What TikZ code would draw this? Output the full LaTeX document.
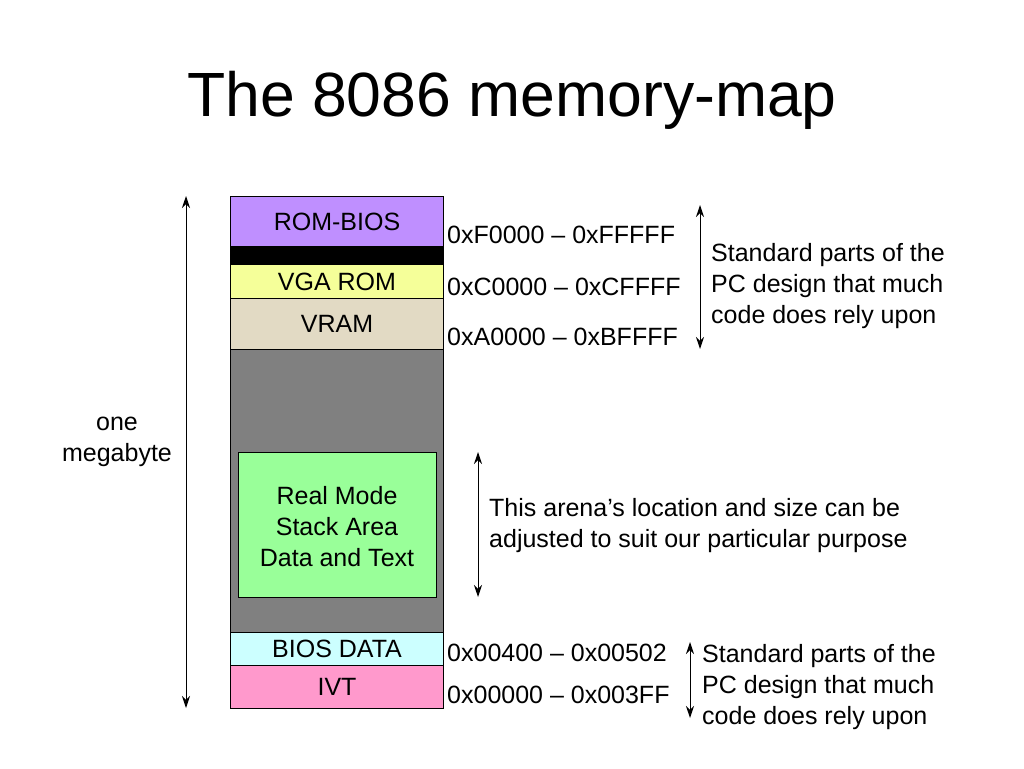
\documentclass[tikz,border=0pt]{standalone}
\usepackage{fontspec}
\setmainfont{Liberation Sans}
\usetikzlibrary{arrows.meta}
\definecolor{rombios}{RGB}{191,143,255}
\definecolor{vgarom}{RGB}{245,255,153}
\definecolor{vram}{RGB}{226,218,196}
\definecolor{arena}{RGB}{128,128,128}
\definecolor{realmode}{RGB}{153,255,153}
\definecolor{biosdata}{RGB}{204,255,255}
\definecolor{ivt}{RGB}{255,153,204}
\begin{document}
\begin{tikzpicture}[x=1pt,y=-1pt,
  seg/.style={draw=black,line width=0.8pt},
  lbl/.style={font=\fontsize{25}{30}\selectfont,anchor=center,inner sep=0pt},
  addr/.style={font=\fontsize{25}{30}\selectfont,anchor=west,inner sep=0pt},
  note/.style={font=\fontsize{25}{31}\selectfont,anchor=west,align=left,inner sep=0pt},
  dim/.style={draw=black,line width=1pt,{Stealth[length=12pt,width=8pt]}-{Stealth[length=12pt,width=8pt]}}]
\useasboundingbox (0,0) rectangle (1024,768);
\fill[white] (0,0) rectangle (1024,768);
\node[font=\fontsize{62.5}{70}\selectfont] (title) at (512,100) {The 8086 memory-map};
% memory column
\path[seg,fill=rombios] (230,196) rectangle (443,246);
\path[seg,fill=black] (230,246) rectangle (443,264);
\path[seg,fill=vgarom] (230,264) rectangle (443,298);
\path[seg,fill=vram] (230,298) rectangle (443,349);
\path[seg,fill=arena] (230,349) rectangle (443,632);
\path[seg,fill=biosdata] (230,632) rectangle (443,665);
\path[seg,fill=ivt] (230,665) rectangle (443,708);
\path[seg,fill=realmode] (238,452) rectangle (436,597);
\node[lbl] (rb) at (337,222) {ROM-BIOS};
\node[lbl] (vg) at (337,282) {VGA ROM};
\node[lbl] (vr) at (337,324) {VRAM};
\node[lbl] (bd) at (337,649) {BIOS DATA};
\node[lbl] (iv) at (337,687) {IVT};
\node[font=\fontsize{25}{31}\selectfont,align=center,inner sep=0pt] (rm) at (337,527) {Real Mode\\Stack Area\\Data and Text};
% addresses
\node[addr] (a1) at (447,235) {0xF0000 – 0xFFFFF};
\node[addr] (a2) at (447,287) {0xC0000 – 0xCFFFF};
\node[addr] (a3) at (447,337) {0xA0000 – 0xBFFFF};
\node[addr] (a4) at (447,653) {0x00400 – 0x00502};
\node[addr] (a5) at (447,695) {0x00000 – 0x003FF};
% dimension arrows
\coordinate (m1) at (186,196); \coordinate (m2) at (186,708);
\draw[dim] (m1) -- (m2);
\node[font=\fontsize{25}{31}\selectfont,align=center,inner sep=0pt] (mb) at (117,442) {one\\megabyte};
\coordinate (t1) at (700,205); \coordinate (t2) at (700,349);
\draw[dim] (t1) -- (t2);
\node[note] (n1) at (711,286) {Standard parts of the\\PC design that much\\code does rely upon};
\coordinate (c1) at (478,452); \coordinate (c2) at (478,597);
\draw[dim] (c1) -- (c2);
\node[note] (n2) at (489,526) {This arena’s location and size can be\\adjusted to suit our particular purpose};
\coordinate (b1) at (690,642); \coordinate (b2) at (690,718);
\draw[dim] (b1) -- (b2);
\node[note] (n3) at (702,687) {Standard parts of the\\PC design that much\\code does rely upon};
\end{tikzpicture}
\end{document}
